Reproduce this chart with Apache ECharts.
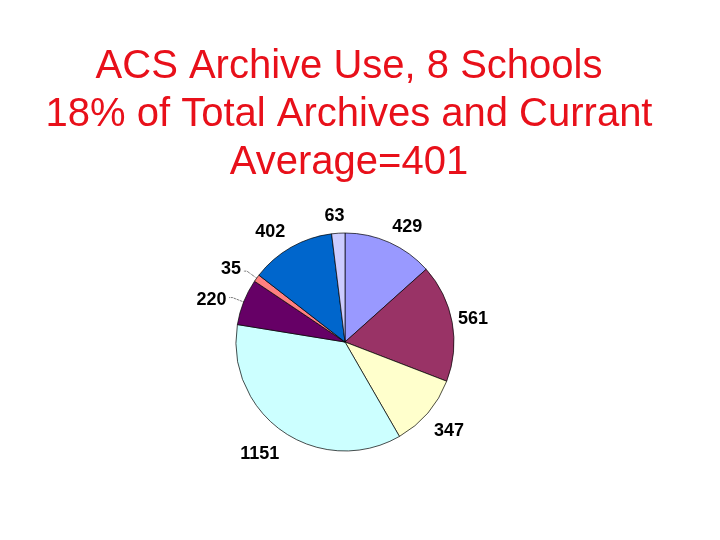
<!DOCTYPE html>
<html><head><meta charset="utf-8">
<script src="https://cdn.jsdelivr.net/npm/echarts@6/dist/echarts.min.js"></script>
<style>html,body{margin:0;padding:0;background:#fff}#c{width:720px;height:540px}</style>
</head><body><div id="c"></div>
<script>
var titleLines = ['ACS Archive Use, 8 Schools', '18% of Total Archives and Currant', 'Average=401'];
var values = [429, 561, 347, 1151, 220, 35, 402, 63];
var colors = ['#9999FF', '#993366', '#FFFFCC', '#CCFFFF', '#660066', '#FF8080', '#0066CC', '#CCCCFF'];
var leaderShown = [false, false, false, false, true, true, false, false];
// small per-label nudges (label styling only)
var labelNudge = [[-7, -4], [-11, -1], [-8, 10], [8, 12], [-1, 2], [-1, -2], [5, -5], [12, -5]];

var chart = echarts.init(document.getElementById('c'));
chart.setOption({
  backgroundColor: '#fff',
  animation: false,
  title: {
    text: titleLines.join('\n'),
    left: 344, top: 38, textAlign: 'center',
    textStyle: { fontFamily: 'Liberation Sans, Arial', fontSize: 40, fontWeight: 'normal', color: '#E8101A', lineHeight: 48 }
  },
  series: [{
    type: 'pie',
    center: [345, 342],
    radius: 109,
    startAngle: 90,
    clockwise: true,
    avoidLabelOverlap: false,
    data: values.map(function (v, i) {
      return {
        value: v,
        itemStyle: { color: colors[i] },
        label: { offset: labelNudge[i] },
        labelLine: { show: leaderShown[i] }
      };
    }),
    itemStyle: { borderColor: '#000', borderWidth: 0.7 },
    label: {
      show: true, position: 'outside', formatter: '{c}',
      fontFamily: 'Liberation Sans, Arial', fontWeight: 'bold', fontSize: 18, color: '#000',
      distanceToLabelLine: 2
    },
    labelLine: { length: 12, length2: 3, lineStyle: { color: '#000', width: 0.8, type: 'dotted' } },
    emphasis: { disabled: true }
  }]
});
</script></body></html>
